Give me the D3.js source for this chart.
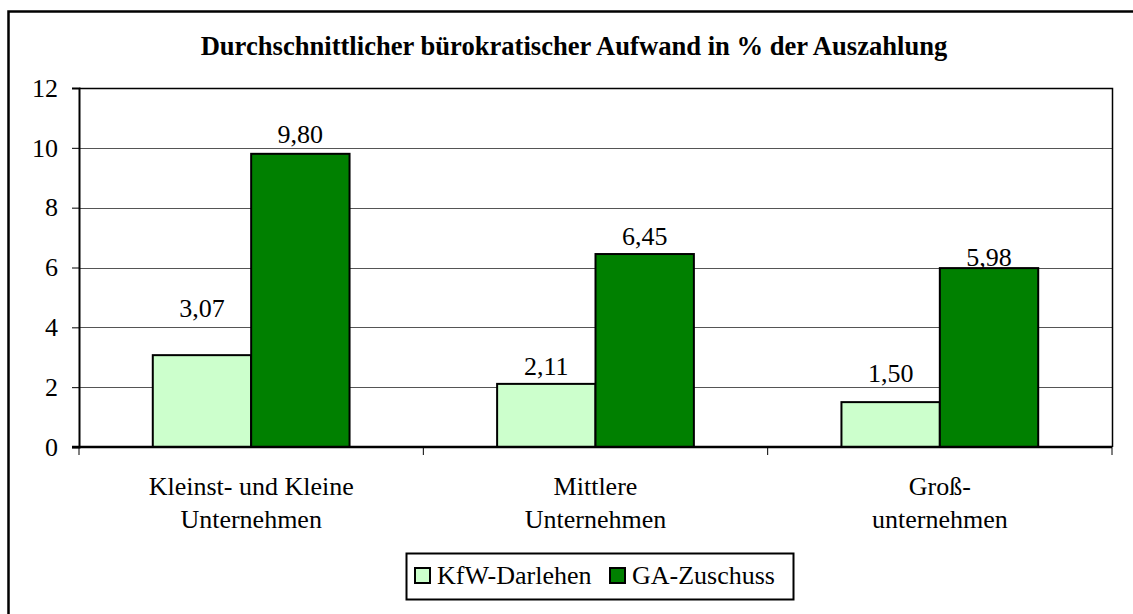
<!DOCTYPE html>
<html>
<head>
<meta charset="utf-8">
<script src="https://cdn.jsdelivr.net/npm/d3@7"></script>
<style>
  body { margin: 0; background: #fff; }
  text { font-family: "Liberation Serif", "Times New Roman", serif; fill: #000; }
</style>
</head>
<body>
<div id="chart"></div>
<script>
// data
var categories = [["Kleinst- und Kleine", "Unternehmen"], ["Mittlere", "Unternehmen"], ["Groß-", "unternehmen"]];
var series = ["KfW-Darlehen", "GA-Zuschuss"];
var kfw = [3.07, 2.11, 1.50];
var ga = [9.80, 6.45, 5.98];
var yTicks = [0, 2, 4, 6, 8, 10, 12];
var colors = ["#CCFFCC", "#008000"];
// label lift above bar top (the original labels were moved by hand)
var labelLift = [[38, 11], [9, 9], [20, 2]];

var width = 1133, height = 614;
var plotLeft = 79, plotRight = 1112, plotTop = 88, plotBottom = 447;
var fontSize = 26;

var svg = d3.select("#chart").append("svg")
    .attr("width", width)
    .attr("height", height);

// outer frame (right and bottom edges fall outside the picture)
svg.append("rect")
    .attr("x", 8.5).attr("y", 11.5)
    .attr("width", 1140).attr("height", 620)
    .attr("fill", "#fff")
    .attr("stroke", "#000")
    .attr("stroke-width", 2.5);

svg.append("text")
    .attr("x", 574).attr("y", 55)
    .attr("text-anchor", "middle")
    .style("font-weight", "bold")
    .style("font-size", "26.6px")
    .text("Durchschnittlicher bürokratischer Aufwand in % der Auszahlung");

var y = d3.scaleLinear().domain([0, 12]).range([plotBottom, plotTop]);
var x0 = d3.scaleBand().domain(d3.range(categories.length)).range([plotLeft, plotRight]);
var x1 = d3.scaleBand().domain(d3.range(series.length))
    .range([0, x0.bandwidth()])
    .paddingOuter(0.75);

// gridlines
svg.append("g").selectAll("line")
    .data(yTicks.filter(function(d) { return d > 0 && d < 12; }))
    .enter().append("line")
    .attr("x1", plotLeft).attr("x2", plotRight)
    .attr("y1", function(d) { return Math.round(y(d)) + 0.5; })
    .attr("y2", function(d) { return Math.round(y(d)) + 0.5; })
    .attr("stroke", "#555")
    .attr("stroke-width", 1);

// plot border top/right
svg.append("path")
    .attr("d", "M" + plotLeft + "," + (plotTop + 0.5) + "H" + (plotRight + 0.5) + "V" + plotBottom)
    .attr("fill", "none")
    .attr("stroke", "#000")
    .attr("stroke-width", 1.5);

var values = [kfw, ga];
var rows = [];
for (var i = 0; i < categories.length; i++) {
    for (var s = 0; s < series.length; s++) {
        rows.push({ c: i, s: s, v: values[s][i] });
    }
}

svg.append("g").selectAll("rect")
    .data(rows)
    .enter().append("rect")
    .attr("x", function(d) { return x0(d.c) + x1(d.s); })
    .attr("y", function(d) { return y(d.v); })
    .attr("width", x1.bandwidth())
    .attr("height", function(d) { return plotBottom - y(d.v); })
    .attr("fill", function(d) { return colors[d.s]; })
    .attr("stroke", "#000")
    .attr("stroke-width", 2);

svg.append("g").selectAll("text")
    .data(rows)
    .enter().append("text")
    .attr("x", function(d) { return x0(d.c) + x1(d.s) + x1.bandwidth() / 2; })
    .attr("y", function(d) { return y(d.v) - labelLift[d.c][d.s]; })
    .attr("text-anchor", "middle")
    .style("font-size", fontSize + "px")
    .text(function(d) { return d.v.toFixed(2).replace(".", ","); });

// y axis
var yAxis = svg.append("g")
    .attr("transform", "translate(" + plotLeft + ",0)")
    .call(d3.axisLeft(y).tickValues(yTicks).tickSize(7).tickPadding(14));
yAxis.select(".domain").attr("stroke-width", 2);
yAxis.selectAll("text").style("font-size", fontSize + "px")
    .style("font-family", "'Liberation Serif', serif");

// x axis line + ticks between groups
var xAxis = svg.append("g");
xAxis.append("line")
    .attr("x1", plotLeft - 7).attr("x2", plotRight)
    .attr("y1", plotBottom).attr("y2", plotBottom)
    .attr("stroke", "#000").attr("stroke-width", 2.5);
xAxis.selectAll("line.tick")
    .data(d3.range(categories.length + 1))
    .enter().append("line")
    .attr("class", "tick")
    .attr("x1", function(d) { return plotLeft + d * x0.step(); })
    .attr("x2", function(d) { return plotLeft + d * x0.step(); })
    .attr("y1", plotBottom).attr("y2", plotBottom + 8)
    .attr("stroke", "#000").attr("stroke-width", 1);

var catText = svg.append("g").selectAll("text")
    .data(categories)
    .enter().append("text")
    .attr("text-anchor", "middle")
    .style("font-size", fontSize + "px");
catText.selectAll("tspan")
    .data(function(d, i) { return d.map(function(t) { return { t: t, i: i }; }); })
    .enter().append("tspan")
    .attr("x", function(d) { return x0(d.i) + x0.bandwidth() / 2; })
    .attr("y", function(d, j) { return 495 + j * 33; })
    .text(function(d) { return d.t; });

// legend
var legend = svg.append("g");
legend.append("rect")
    .attr("x", 406.5).attr("y", 553.5)
    .attr("width", 387).attr("height", 46)
    .attr("fill", "#fff").attr("stroke", "#000").attr("stroke-width", 2);
var legendX = [415, 610];
var item = legend.selectAll("g.item")
    .data(series)
    .enter().append("g")
    .attr("class", "item")
    .attr("transform", function(d, i) { return "translate(" + legendX[i] + ",568)"; });
item.append("rect")
    .attr("width", 15).attr("height", 15)
    .attr("fill", function(d, i) { return colors[i]; })
    .attr("stroke", "#000").attr("stroke-width", 2);
item.append("text")
    .attr("x", 22).attr("y", 16)
    .style("font-size", fontSize + "px")
    .text(function(d) { return d; });
</script>
</body>
</html>
